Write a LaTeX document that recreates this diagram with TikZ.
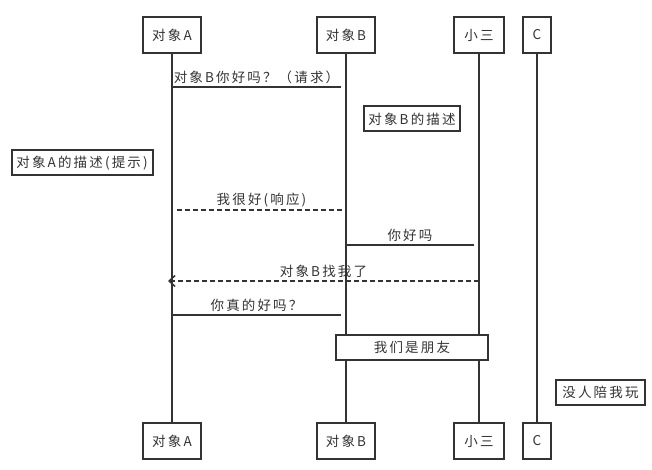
\documentclass[tikz,border=0pt]{standalone}
\usepackage{fontspec}
\setmainfont{Noto Sans CJK SC}[LetterSpace=16]
\usetikzlibrary{arrows.meta}
\definecolor{ink}{HTML}{333333}
\tikzset{
  every node/.style={font=\fontsize{13.5}{16}\selectfont, text=ink},
  actor/.style={draw=ink, line width=2pt, fill=white, minimum height=36pt, inner sep=0pt},
  notebox/.style={draw=ink, line width=2pt, fill=white, minimum height=25pt, inner sep=0pt},
  life/.style={draw=ink, line width=2pt},
  msg/.style={draw=ink, line width=2pt},
  ret/.style={draw=ink, line width=2pt, dash pattern=on 5pt off 3pt},
  lbl/.style={anchor=south, inner sep=2pt, fill=none}
}
\begin{document}
\begin{tikzpicture}[x=1pt, y=-1pt]
\useasboundingbox (0,0) rectangle (652,470);
% actors top
\node[actor, minimum width=58pt] (At) at (172,35) {对象A};
\node[actor, minimum width=58pt] (Bt) at (346,35) {对象B};
\node[actor, minimum width=50pt] (St) at (479,35) {小三};
\node[actor, minimum width=28pt] (Ct) at (537,35) {C};
% actors bottom
\node[actor, minimum width=58pt] (Ab) at (172,441) {对象A};
\node[actor, minimum width=58pt] (Bb) at (346,441) {对象B};
\node[actor, minimum width=50pt] (Sb) at (479,441) {小三};
\node[actor, minimum width=28pt] (Cb) at (537,441) {C};
% lifelines
\draw[life] (At.south) -- (Ab.north);
\draw[life] (Bt.south) -- (Bb.north);
\draw[life] (St.south) -- (Sb.north);
\draw[life] (Ct.south) -- (Cb.north);
% message 1
\coordinate (m1a) at (172,87);
\coordinate (m1b) at (341,87);
\draw[msg] (m1a) -- node[lbl] {对象B你好吗？（请求）} (m1b);
% note B
\node[notebox, minimum width=96pt] (nB) at (412,119) {对象B的描述};
% note A
\node[notebox, minimum width=141pt] (nA) at (82,163) {对象A的描述(提示)};
% message 2 (dashed)
\coordinate (m2a) at (177,210);
\coordinate (m2b) at (346,210);
\draw[ret] (m2a) -- node[lbl] {我很好(响应)} (m2b);
% message 3
\coordinate (m3a) at (346,245);
\coordinate (m3b) at (474,245);
\draw[msg] (m3a) -- node[lbl] {你好吗} (m3b);
% message 4 (dashed, arrow)
\coordinate (m4a) at (479,281);
\coordinate (m4b) at (168,281);
\draw[ret, -{Straight Barb[length=6pt, width=11pt, line width=1.5pt]}] (m4a) -- node[lbl] {对象B找我了} (m4b);
% message 5
\coordinate (m5a) at (172,315);
\coordinate (m5b) at (341,315);
\draw[msg] (m5a) -- node[lbl] {你真的好吗？} (m5b);
% notes
\node[notebox, minimum width=152pt] (nF) at (412,347) {我们是朋友};
\node[notebox, minimum width=89pt] (nC) at (600.5,392) {没人陪我玩};
\end{tikzpicture}
\end{document}
